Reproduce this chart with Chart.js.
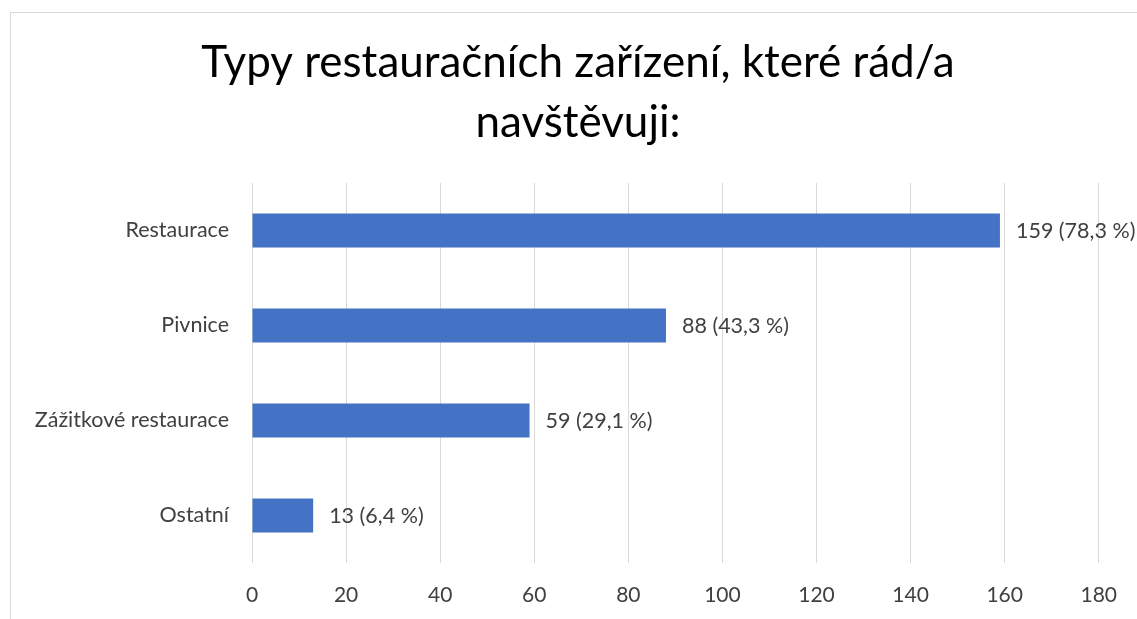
<!DOCTYPE html>
<html><head><meta charset="utf-8">
<script src="https://cdn.jsdelivr.net/npm/chart.js@4.4.1/dist/chart.umd.min.js"></script>
<style>
html,body{margin:0;padding:0;background:#fff;overflow:hidden}
#frame{position:absolute;left:10px;top:12px;width:1200px;height:700px;border:1px solid #d9d9d9;box-sizing:border-box}
#wrap{position:absolute;left:0;top:0;width:1137px;height:619px}
</style></head><body>
<div id="frame"></div>
<div id="wrap"><canvas id="c" width="1137" height="619"></canvas></div>
<script>
const titleLines = ['Typy restauračních zařízení, které rád/a', 'navštěvuji:'];
const categories = ['Restaurace', 'Pivnice', 'Zážitkové restaurace', 'Ostatní'];
const counts = [159, 88, 59, 13];
const percents = ['78,3', '43,3', '29,1', '6,4'];
const xMin = 0, xMax = 180, xStep = 20;

const FONT = 'Lato, "Open Sans", sans-serif';

const valueLabels = {
  id: 'valueLabels',
  afterDatasetsDraw(chart) {
    const ctx = chart.ctx;
    const meta = chart.getDatasetMeta(0);
    ctx.save();
    ctx.font = '21.5px ' + FONT;
    ctx.fillStyle = '#404040';
    ctx.textAlign = 'left';
    ctx.textBaseline = 'middle';
    meta.data.forEach((bar, i) => {
      ctx.fillText(counts[i] + ' (' + percents[i] + ' %)', bar.x + 16, bar.y + 1);
    });
    ctx.restore();
  }
};

// Chart title drawn as text, centred on the chart frame (which extends past the window)
const frameTitle = {
  id: 'frameTitle',
  afterDraw(chart) {
    const ctx = chart.ctx;
    ctx.save();
    ctx.font = '44px ' + FONT;
    ctx.fillStyle = '#000000';
    ctx.textAlign = 'center';
    ctx.textBaseline = 'middle';
    titleLines.forEach((line, i) => ctx.fillText(line, 578, 63 + i * 60));
    ctx.restore();
  }
};

new Chart(document.getElementById('c'), {
  type: 'bar',
  data: {
    labels: categories,
    datasets: [{
      data: counts,
      backgroundColor: '#4472C4',
      borderWidth: 0,
      barPercentage: 0.36,
      categoryPercentage: 1
    }]
  },
  options: {
    indexAxis: 'y',
    responsive: false,
    devicePixelRatio: 1,
    animation: false,
    layout: { padding: { left: 17, right: 38, top: 183, bottom: 0 } },
    plugins: {
      legend: { display: false },
      tooltip: { enabled: false },
      title: { display: false }
    },
    scales: {
      x: {
        min: xMin, max: xMax,
        ticks: { stepSize: xStep, color: '#404040', font: { family: FONT, size: 21 }, padding: 20 },
        grid: { color: '#d9d9d9', lineWidth: 1, drawTicks: false },
        border: { display: false },
        afterFit(scale) { scale.height = 56; }
      },
      y: {
        ticks: { color: '#404040', font: { family: FONT, size: 21.5 }, padding: 23, autoSkip: false },
        grid: { display: false, drawTicks: false },
        border: { display: false },
        afterFit(scale) { scale.width = 235; }
      }
    }
  },
  plugins: [valueLabels, frameTitle]
});
</script>
</body></html>
